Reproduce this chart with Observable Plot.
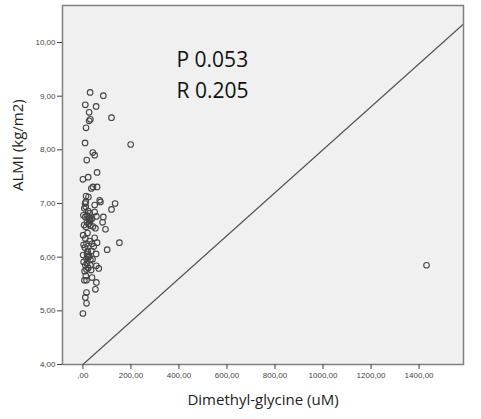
<!DOCTYPE html>
<html>
<head>
<meta charset="utf-8">
<script src="https://cdn.jsdelivr.net/npm/d3@7"></script>
<script src="https://cdn.jsdelivr.net/npm/@observablehq/plot@0.6"></script>
<style>
  html, body { margin: 0; padding: 0; background: #fff; }
  #chart svg { display: block; }
</style>
</head>
<body>
<div id="chart"></div>
<script>
// Dimethyl-glycine (uM)
const dmg = [30, 85, 10, 55, 26, 31, 26, 119, 13, 9, 199, 41, 49, 16, 59, 0, 22, 35, 42, 59,
  13, 23, 70, 134, 119, 9, 12, 6, 49, 85, 22, 28, 49, 56, 2, 10, 12, 73, 17, 28,
  82, 94, 17, 24, 31, 13, 42, 52, 31, 38, 1, 10, 15, 3, 49, 59, 152, 101, 38, 1,
  17, 24, 15, 31, 55, 3, 10, 17, 31, 56, 66, 7, 15, 34, 38, 6, 15, 56, 52, 15,
  10, 15, 0, 22, 26, 20, 28, 24, 20, 8, 19, 28, 35, 5, 45, 12, 22, 40, 1431];
// ALMI (kg/m2)
const almi = [9.07, 9.01, 8.84, 8.81, 8.70, 8.57, 8.54, 8.60, 8.41, 8.13, 8.10, 7.95, 7.90, 7.81, 7.58, 7.45, 7.49, 7.28, 7.31, 7.31,
  7.14, 7.12, 7.06, 7.00, 6.89, 7.00, 6.94, 6.91, 6.97, 6.75, 6.86, 6.82, 6.84, 6.76, 6.78, 6.75, 7.03, 7.03, 6.78, 6.74,
  6.65, 6.52, 6.65, 6.62, 6.59, 6.56, 6.57, 6.54, 6.69, 6.72, 6.41, 6.35, 6.25, 6.23, 6.36, 6.27, 6.27, 6.14, 6.25, 6.04,
  6.06, 6.01, 5.97, 5.95, 6.06, 5.91, 5.85, 5.88, 5.85, 5.84, 5.79, 5.74, 5.77, 5.76, 5.62, 5.57, 5.57, 5.53, 5.40, 5.34,
  5.25, 5.14, 4.95, 6.00, 6.03, 6.10, 6.68, 6.72, 6.12, 6.18, 6.45, 6.30, 6.12, 6.60, 6.20, 5.65, 5.80, 5.96, 5.85];
// reference line end points
const lineX = [0, 1584];
const lineY = [4, 10.34];
const xTicks = [0, 200, 400, 600, 800, 1000, 1200, 1400];
const yTicks = [4, 5, 6, 7, 8, 9, 10];
const annotations = ["P 0.053", "R 0.205"];
const xLabel = "Dimethyl-glycine (uM)";
const yLabel = "ALMI (kg/m2)";

const points = dmg.map((x, i) => ({x, y: almi[i]}));
const line = lineX.map((x, i) => ({x, y: lineY[i]}));
const fmt = v => v === 0 ? ",00" : v.toFixed(2).replace(".", ",");

const chart = Plot.plot({
  width: 481,
  height: 419,
  marginTop: 5,
  marginBottom: 55,
  marginLeft: 62,
  marginRight: 18,
  style: {fontFamily: "Liberation Sans, Arial, sans-serif", background: "#fff"},
  x: {domain: [-85, 1585]},
  y: {domain: [4, 10.69]},
  marks: [
    Plot.frame({fill: "#f0f0f0"}),
    Plot.line(line, {x: "x", y: "y", stroke: "#555", strokeWidth: 1.2}),
    Plot.dot(points, {x: "x", y: "y", r: 2.8, stroke: "#444", strokeWidth: 1.1, fill: "none"}),
    Plot.frame({stroke: "#808080", strokeWidth: 1.5}),
    Plot.axisX({ticks: xTicks, tickFormat: fmt, tickSize: 5, tickPadding: 3, fontSize: 8, color: "#444", label: null}),
    Plot.axisY({ticks: yTicks, tickFormat: fmt, tickSize: 5, tickPadding: 2, fontSize: 8, color: "#444", label: null}),
    Plot.text([annotations[0]], {frameAnchor: "top-left", dx: 114, dy: 47, textAnchor: "start",
      fontSize: 21, fill: "#111", fontFamily: "Open Sans, sans-serif"}),
    Plot.text([annotations[1]], {frameAnchor: "top-left", dx: 114, dy: 78, textAnchor: "start",
      fontSize: 21, fill: "#111", fontFamily: "Open Sans, sans-serif"}),
    Plot.text([xLabel], {frameAnchor: "bottom", dy: 40, fontSize: 15, fill: "#222", fontFamily: "Open Sans, sans-serif"}),
    Plot.text([yLabel], {frameAnchor: "left", dx: -44, dy: 6, rotate: -90, fontSize: 15, fill: "#222", fontFamily: "Open Sans, sans-serif"})
  ]
});
document.getElementById("chart").append(chart);
</script>
</body>
</html>
